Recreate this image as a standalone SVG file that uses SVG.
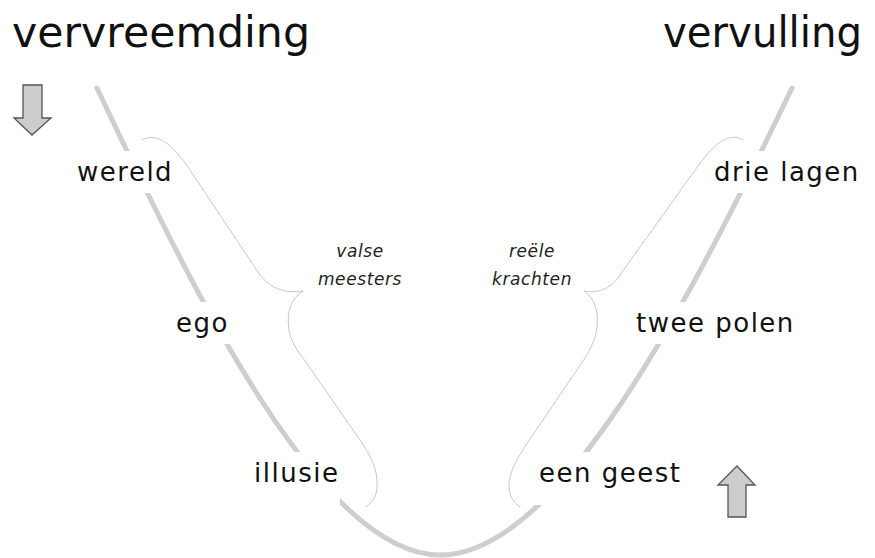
<svg xmlns="http://www.w3.org/2000/svg" width="875" height="558" viewBox="0 0 875 558">
<style>
.title{font-family:"DejaVu Sans",Verdana,sans-serif;font-size:42px;fill:#111}
.lbl{font-family:"DejaVu Sans",Verdana,sans-serif;font-size:26px;fill:#111;letter-spacing:1.5px}
.it{font-family:"DejaVu Sans",Verdana,sans-serif;font-size:17px;font-style:italic;fill:#222;letter-spacing:0.6px;text-anchor:middle}
.bg{fill:#fff}
.v{fill:none;stroke:#cecece;stroke-width:5;stroke-linecap:round}
.brace{fill:none;stroke:#c8c8c8;stroke-width:1}
.arrow{fill:#cccccc;stroke:#555;stroke-width:1.3;stroke-linejoin:miter}
</style>
<rect width="875" height="558" fill="#fff"/>
<g id="connectors">
<path class="v" d="M97,88 C197,300 322,555 440,555 C560,555 690,300 792,88"/>
</g>
<g id="title-vervreemding"><text class="title" x="12" y="47" textLength="298" lengthAdjust="spacingAndGlyphs">vervreemding</text></g>
<g id="title-vervulling"><text class="title" x="663" y="47" textLength="199" lengthAdjust="spacingAndGlyphs">vervulling</text></g>
<g id="arrow-down"><polygon class="arrow" points="23,85 42,85 42,118 51,118 32,135 14,118 23,118"/></g>
<g id="arrow-up"><polygon class="arrow" points="728,517 746,517 746,485 755,485 737,466 718,485 728,485"/></g>
<g id="wereld"><rect class="bg" x="68" y="151" width="107" height="42"/><text class="lbl" x="77" y="181">wereld</text></g>
<g id="ego"><rect class="bg" x="170" y="302" width="62" height="42"/><text class="lbl" x="176" y="332">ego</text></g>
<g id="illusie"><rect class="bg" x="248" y="452" width="92" height="52"/><text class="lbl" x="254" y="482">illusie</text></g>
<g id="drie-lagen"><rect class="bg" x="708" y="151" width="155" height="42"/><text class="lbl" x="714" y="181">drie lagen</text></g>
<g id="twee-polen"><rect class="bg" x="630" y="302" width="168" height="42"/><text class="lbl" x="636" y="332">twee polen</text></g>
<g id="een-geest"><rect class="bg" x="533" y="452" width="152" height="53"/><text class="lbl" x="539" y="482">een geest</text></g>
<g id="valse-meesters"><text class="it" x="360" y="257">valse</text><text class="it" x="360" y="285">meesters</text></g>
<g id="reele-krachten"><text class="it" x="532" y="257">reële</text><text class="it" x="532" y="285">krachten</text></g>
<g id="braces">
<path class="brace" d="M142,140 C156,132 172,143 190,170 L260,275 C270,288 285,294 303,291 C292,298 286,310 289,330 C291,342 297,350 303,358 L360,440 C372,458 378,470 377,487 C377,495 373,502 366,507"/>
<path class="brace" d="M743,140 C730,132 715,142 698,166 L620,275 C612,287 600,294 584,291 C594,298 599,310 597,328 C596,338 590,350 585,358 L526,445 C515,462 508,475 509,488 C510,497 514,503 520,507"/>
</g>
</svg>
